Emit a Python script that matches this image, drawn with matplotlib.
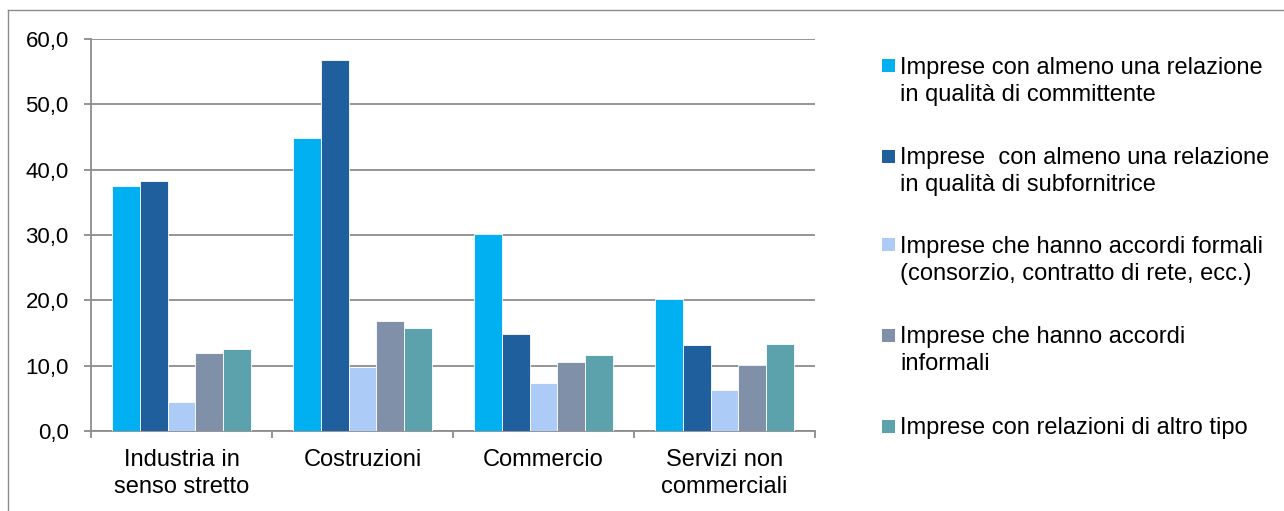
import matplotlib
matplotlib.use('Agg')
import matplotlib.pyplot as plt
from matplotlib.lines import Line2D
from matplotlib.patches import Rectangle
import numpy as np

plt.rcParams['font.family'] = ['Liberation Sans', 'DejaVu Sans']

# --- dati ---
categorie = ['Industria in\nsenso stretto', 'Costruzioni', 'Commercio', 'Servizi non\ncommerciali']
serie_nomi = [
    'Imprese con almeno una relazione\nin qualità di committente',
    'Imprese  con almeno una relazione\nin qualità di subfornitrice',
    'Imprese che hanno accordi formali\n(consorzio, contratto di rete, ecc.)',
    'Imprese che hanno accordi\ninformali',
    'Imprese con relazioni di altro tipo',
]
committente = [37.5, 44.9, 30.2, 20.2]
subfornitrice = [38.3, 56.8, 14.8, 13.2]
formali = [4.5, 9.8, 7.3, 6.2]
informali = [11.9, 16.9, 10.5, 10.1]
altro = [12.6, 15.7, 11.6, 13.3]
colori = ['#00B0F0', '#1F5F9E', '#ADCBF7', '#8090A8', '#5BA2AD']

serie = [committente, subfornitrice, formali, informali, altro]

W, H = 1284, 511
fig = plt.figure(figsize=(W / 100, H / 100), dpi=100)
ax = fig.add_axes([91 / W, 1 - 431 / H, (815 - 91) / W, (431 - 39) / H])

larghezza = 0.153
inizio = 0.117
x = np.arange(len(categorie))
for k, (valori, col) in enumerate(zip(serie, colori)):
    ax.bar(x + inizio + k * larghezza, valori, width=larghezza, align='edge',
           color=col, edgecolor='white', linewidth=0.6, zorder=3)

ax.set_xlim(0, len(categorie))
ax.set_ylim(0, 60)
ax.set_yticks(np.arange(0, 61, 10))
ax.set_yticklabels([f'{v:.1f}'.replace('.', ',') for v in np.arange(0, 61, 10)])
ax.set_xticks(x + 0.5)
ax.set_xticklabels(categorie, linespacing=1.3)
ax.set_xticks(np.arange(0, len(categorie) + 1), minor=True)

grigio = '#8C8C8C'
ax.grid(axis='y', color=grigio, linewidth=1.3, zorder=0)
for s in ['top', 'right']:
    ax.spines[s].set_visible(False)
for s in ['left', 'bottom']:
    ax.spines[s].set_color(grigio)
    ax.spines[s].set_linewidth(1.3)

ax.tick_params(axis='y', length=5, width=1.3, color=grigio, pad=11, labelsize=16)
ax.tick_params(axis='x', which='major', length=0, pad=13, labelsize=17)
ax.tick_params(axis='x', which='minor', length=5, width=1.3, color=grigio)

# --- legenda manuale ---
centri = [66, 156, 245, 335, 426]
for nome, col, yc in zip(serie_nomi, colori, centri):
    fig.add_artist(Rectangle((882 / W, 1 - (yc + 6.5) / H), 13 / W, 13 / H,
                             transform=fig.transFigure, facecolor=col, edgecolor='none'))
    fig.text(900 / W, 1 - (yc - 9) / H, nome, fontsize=17, va='top', ha='left',
             linespacing=1.3, color='black')

# cornice esterna
fig.add_artist(Line2D([8 / W, 8 / W], [0, 1 - 10 / H], transform=fig.transFigure,
                      color=grigio, linewidth=1))
fig.add_artist(Line2D([8 / W, 1], [1 - 10 / H, 1 - 10 / H], transform=fig.transFigure,
                      color=grigio, linewidth=1))

fig.savefig('out.png', dpi=100)
